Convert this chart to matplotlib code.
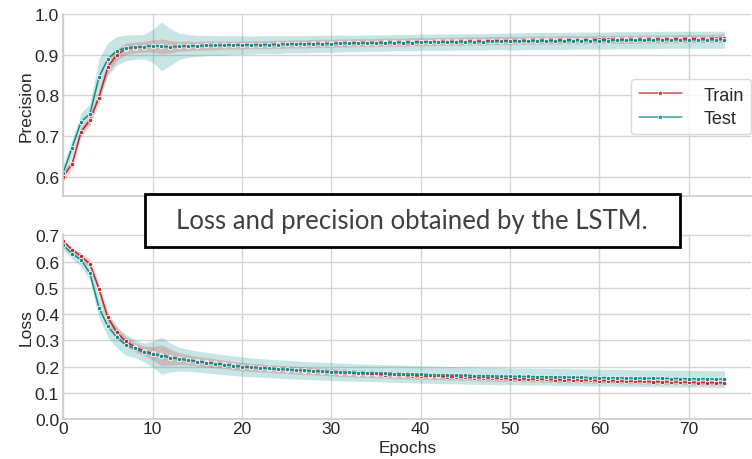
import numpy as np
import matplotlib
matplotlib.use("Agg")
import matplotlib.pyplot as plt
import seaborn as sns
from matplotlib.patches import Rectangle

# epochs 0..74
epochs = np.arange(75)

# precision (mean per epoch)
prec_train = [0.600, 0.632, 0.710, 0.740, 0.795, 0.870, 0.900, 0.915, 0.918, 0.920,
              0.922, 0.921, 0.920, 0.921, 0.922, 0.922, 0.923, 0.923, 0.924, 0.924,
              0.924, 0.925, 0.925, 0.925, 0.926, 0.926, 0.927, 0.927, 0.928, 0.928,
              0.928, 0.929, 0.929, 0.930, 0.930, 0.930, 0.931, 0.931, 0.931, 0.932,
              0.932, 0.932, 0.933, 0.933, 0.933, 0.934, 0.934, 0.934, 0.935, 0.935,
              0.935, 0.935, 0.936, 0.936, 0.936, 0.936, 0.937, 0.937, 0.937, 0.937,
              0.938, 0.938, 0.938, 0.938, 0.938, 0.939, 0.939, 0.939, 0.939, 0.940,
              0.940, 0.940, 0.940, 0.941, 0.941]
prec_test = [0.610, 0.672, 0.735, 0.755, 0.845, 0.890, 0.910, 0.917, 0.919, 0.920,
             0.922, 0.921, 0.919, 0.921, 0.922, 0.922, 0.923, 0.923, 0.923, 0.924,
             0.924, 0.924, 0.925, 0.925, 0.925, 0.926, 0.926, 0.926, 0.927, 0.927,
             0.927, 0.928, 0.928, 0.928, 0.929, 0.929, 0.929, 0.930, 0.930, 0.930,
             0.931, 0.931, 0.931, 0.931, 0.932, 0.932, 0.932, 0.932, 0.933, 0.933,
             0.933, 0.933, 0.934, 0.934, 0.934, 0.934, 0.934, 0.935, 0.935, 0.935,
             0.935, 0.935, 0.936, 0.936, 0.936, 0.936, 0.936, 0.937, 0.937, 0.937,
             0.937, 0.937, 0.937, 0.937, 0.937]
# band half widths
prec_train_err = [0.012, 0.012, 0.012, 0.012, 0.015, 0.015, 0.014, 0.014, 0.013, 0.013,
                  0.015, 0.018, 0.015, 0.012, 0.012, 0.011, 0.011, 0.011, 0.010, 0.010,
                  0.010, 0.010, 0.010, 0.010, 0.010, 0.010, 0.010, 0.010, 0.010, 0.010,
                  0.010, 0.010, 0.010, 0.010, 0.010, 0.010, 0.010, 0.010, 0.010, 0.010,
                  0.010, 0.010, 0.010, 0.010, 0.010, 0.010, 0.010, 0.010, 0.010, 0.010,
                  0.010, 0.010, 0.010, 0.010, 0.010, 0.010, 0.010, 0.010, 0.010, 0.010,
                  0.010, 0.010, 0.010, 0.010, 0.010, 0.010, 0.010, 0.010, 0.010, 0.010,
                  0.010, 0.010, 0.010, 0.010, 0.010]
prec_test_err = [0.018, 0.020, 0.022, 0.025, 0.045, 0.040, 0.035, 0.032, 0.030, 0.030,
                 0.040, 0.060, 0.045, 0.032, 0.028, 0.026, 0.025, 0.024, 0.024, 0.023,
                 0.023, 0.022, 0.022, 0.022, 0.022, 0.021, 0.021, 0.021, 0.021, 0.021,
                 0.021, 0.021, 0.020, 0.020, 0.020, 0.020, 0.020, 0.020, 0.020, 0.020,
                 0.020, 0.020, 0.020, 0.020, 0.020, 0.020, 0.020, 0.020, 0.020, 0.020,
                 0.021, 0.021, 0.021, 0.021, 0.021, 0.021, 0.021, 0.021, 0.021, 0.021,
                 0.021, 0.021, 0.021, 0.021, 0.021, 0.021, 0.021, 0.021, 0.021, 0.021,
                 0.021, 0.021, 0.021, 0.021, 0.021]

# loss (mean per epoch)
loss_train = [0.678, 0.645, 0.620, 0.592, 0.496, 0.387, 0.330, 0.296, 0.275, 0.260,
              0.250, 0.243, 0.236, 0.230, 0.225, 0.220, 0.216, 0.212, 0.208, 0.204,
              0.200, 0.197, 0.195, 0.192, 0.190, 0.188, 0.186, 0.184, 0.182, 0.180,
              0.178, 0.176, 0.175, 0.173, 0.172, 0.170, 0.169, 0.168, 0.166, 0.165,
              0.164, 0.163, 0.162, 0.161, 0.160, 0.159, 0.158, 0.157, 0.156, 0.155,
              0.154, 0.153, 0.152, 0.152, 0.151, 0.150, 0.149, 0.149, 0.148, 0.147,
              0.146, 0.146, 0.145, 0.144, 0.144, 0.143, 0.142, 0.142, 0.141, 0.141,
              0.140, 0.139, 0.139, 0.138, 0.138]
loss_test = [0.662, 0.630, 0.607, 0.555, 0.425, 0.353, 0.311, 0.283, 0.269, 0.254,
             0.247, 0.241, 0.234, 0.228, 0.224, 0.219, 0.215, 0.211, 0.207, 0.203,
             0.200, 0.197, 0.195, 0.193, 0.191, 0.189, 0.187, 0.185, 0.184, 0.182,
             0.181, 0.179, 0.178, 0.177, 0.176, 0.175, 0.174, 0.173, 0.172, 0.171,
             0.170, 0.169, 0.168, 0.167, 0.167, 0.166, 0.165, 0.165, 0.164, 0.163,
             0.163, 0.162, 0.162, 0.161, 0.161, 0.160, 0.160, 0.159, 0.159, 0.158,
             0.158, 0.157, 0.157, 0.156, 0.156, 0.155, 0.155, 0.155, 0.154, 0.154,
             0.153, 0.153, 0.153, 0.152, 0.152]
loss_train_err = [0.008, 0.010, 0.012, 0.018, 0.022, 0.022, 0.020, 0.018, 0.018, 0.018,
                  0.025, 0.040, 0.030, 0.022, 0.020, 0.018, 0.018, 0.017, 0.016, 0.016,
                  0.016, 0.016, 0.015, 0.015, 0.015, 0.015, 0.015, 0.015, 0.014, 0.014,
                  0.014, 0.014, 0.014, 0.014, 0.013, 0.013, 0.013, 0.013, 0.013, 0.013,
                  0.012, 0.012, 0.012, 0.012, 0.012, 0.012, 0.012, 0.012, 0.012, 0.012,
                  0.011, 0.011, 0.011, 0.011, 0.011, 0.011, 0.011, 0.011, 0.011, 0.011,
                  0.010, 0.010, 0.010, 0.010, 0.010, 0.010, 0.010, 0.010, 0.010, 0.010,
                  0.010, 0.010, 0.010, 0.010, 0.010]
loss_test_err = [0.015, 0.020, 0.025, 0.030, 0.040, 0.040, 0.040, 0.040, 0.035, 0.035,
                 0.050, 0.070, 0.055, 0.045, 0.042, 0.040, 0.040, 0.038, 0.038, 0.037,
                 0.037, 0.036, 0.036, 0.035, 0.035, 0.035, 0.035, 0.034, 0.034, 0.034,
                 0.034, 0.034, 0.034, 0.033, 0.033, 0.033, 0.033, 0.033, 0.033, 0.033,
                 0.033, 0.033, 0.033, 0.033, 0.033, 0.033, 0.033, 0.033, 0.033, 0.033,
                 0.032, 0.032, 0.032, 0.032, 0.032, 0.032, 0.032, 0.032, 0.032, 0.032,
                 0.032, 0.032, 0.032, 0.032, 0.032, 0.032, 0.032, 0.032, 0.032, 0.032,
                 0.032, 0.032, 0.032, 0.032, 0.032]

caption = "Loss and precision obtained by the LSTM."

sns.set_style("whitegrid")
plt.rcParams['font.family'] = ['Liberation Sans', 'DejaVu Sans']

red = '#c4262b'
teal = '#0f8b8b'
red_band = '#c81414'
teal_band = '#008c8c'

fig = plt.figure(figsize=(7.52, 4.6), dpi=100)
ax1 = fig.add_axes([0.084, 0.572, 0.915, 0.395])
ax2 = fig.add_axes([0.084, 0.087, 0.915, 0.402])


def draw(ax, tr, te, tr_err, te_err):
    tr = np.array(tr)
    te = np.array(te)
    tr_err = np.array(tr_err)
    te_err = np.array(te_err)
    ax.fill_between(epochs, te - te_err, te + te_err, color=teal_band, alpha=0.22, lw=0)
    ax.fill_between(epochs, tr - tr_err, tr + tr_err, color=red_band, alpha=0.2, lw=0)
    ax.plot(epochs, tr, color=red, lw=1.1, marker='o', ms=3.2, mec='white', mew=0.6, label='Train')
    ax.plot(epochs, te, color=teal, lw=1.1, marker='o', ms=3.2, mec='white', mew=0.6, label='Test')
    ax.set_xlim(0, 77)
    ax.set_xticks([0, 10, 20, 30, 40, 50, 60, 70])
    for s in ['left', 'bottom']:
        ax.spines[s].set_color('#cccccc')
        ax.spines[s].set_linewidth(1.2)
    for s in ['top', 'right']:
        ax.spines[s].set_visible(False)
    ax.tick_params(labelsize=12.5, colors='#262626', length=0, pad=1.5)
    ax.tick_params(axis='y', pad=3)
    ax.grid(True, color='#d4d4d4', lw=1.0)


draw(ax1, prec_train, prec_test, prec_train_err, prec_test_err)
ax1.set_ylim(0.553, 1.0)
ax1.set_yticks([0.6, 0.7, 0.8, 0.9, 1.0])
ax1.set_xticklabels([])
ax1.set_ylabel('Precision', fontsize=12.5, color='#262626', labelpad=1)
leg = ax1.legend(loc='center right', bbox_to_anchor=(1.013, 0.49), fontsize=13,
                 frameon=True, handlelength=2.4, handletextpad=1.2, borderpad=0.4,
                 labelspacing=0.35)
leg.get_frame().set_edgecolor('#d0d0d0')
for h in leg.get_lines():
    h.set_alpha(0.8)
    h.set_markersize(3)

draw(ax2, loss_train, loss_test, loss_train_err, loss_test_err)
ax2.set_ylim(0.0, 0.705)
ax2.set_yticks([0.0, 0.1, 0.2, 0.3, 0.4, 0.5, 0.6, 0.7])
ax2.set_ylabel('Loss', fontsize=12.5, color='#262626', labelpad=1)
ax2.set_xlabel('Epochs', fontsize=12.5, color='#262626')
ax2.xaxis.set_label_coords(0.5, -0.112)

# caption box overlay
fig.patches.append(Rectangle((145 / 752, 1 - 248 / 460), 535 / 752, 53 / 460,
                             transform=fig.transFigure, facecolor='white',
                             edgecolor='black', lw=2.0, zorder=10))
fig.text(412 / 752, 1 - 222 / 460, caption, fontsize=18.5, family='Lato',
         color='#404040', ha='center', va='center', zorder=11)

fig.savefig('out.png', dpi=100)
